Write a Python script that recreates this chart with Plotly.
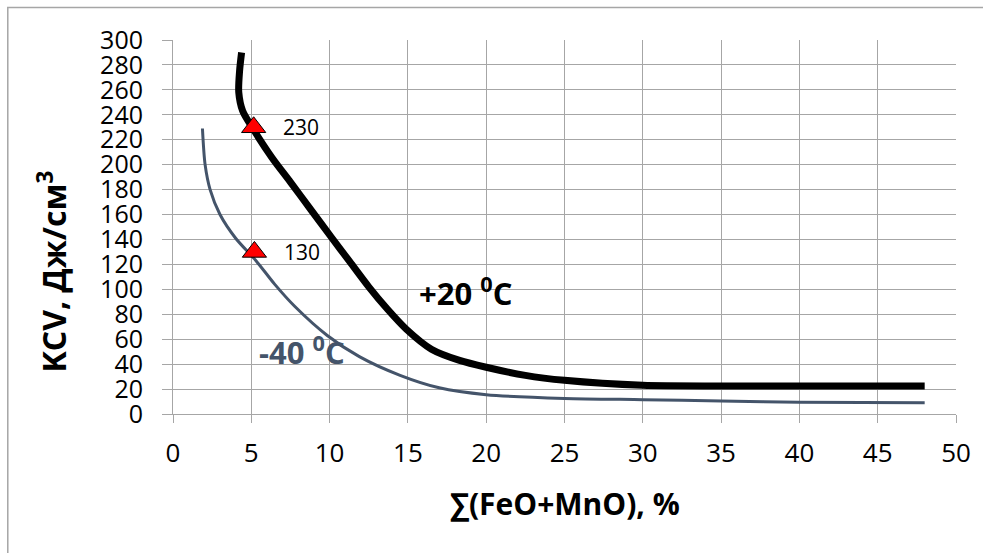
import plotly.graph_objects as go

# +20 °C curve
x_p20 = [4.38, 4.25, 4.2, 4.45, 5.1, 6.3, 7.5, 8.8, 10.1, 11.3, 12.5, 13.7, 14.9, 16.5, 18.3, 20.0, 22.5, 25.0, 30.0, 35.0, 40.0, 48.0]
y_p20 = [290, 275, 258, 243, 229, 206, 186, 164, 142, 122, 102, 84, 68, 52, 43, 37.5, 31, 27, 23, 22.5, 22.5, 22.5]

# -40 °C curve
x_m40 = [1.88, 2.05, 2.37, 3.0, 4.0, 5.3, 6.5, 7.8, 9.85, 11.9, 14.5, 17.0, 20.0, 25.0, 30.0, 35.0, 40.0, 48.0]
y_m40 = [229, 200, 180, 160, 141, 123, 104, 86, 63, 46, 31, 21, 15.5, 12.5, 11.5, 10.5, 9.5, 9]

# highlighted points
x_pts = [5.15, 5.2]
y_pts = [230, 130]
pt_labels = ["230", "130"]

FONT = "Open Sans"
GRID = "#a6a6a6"
SLATE = "#44546A"

fig = go.Figure()
fig.add_trace(go.Scatter(x=x_m40, y=y_m40, mode="lines",
                         line=dict(color=SLATE, width=3, shape="spline", smoothing=0.8),
                         showlegend=False, hoverinfo="skip"))
fig.add_trace(go.Scatter(x=x_p20, y=y_p20, mode="lines",
                         line=dict(color="black", width=7, shape="spline", smoothing=0.8),
                         showlegend=False, hoverinfo="skip"))
fig.add_trace(go.Scatter(x=x_pts, y=y_pts, mode="markers",
                         marker=dict(symbol="triangle-up", size=21, color="#ff0000",
                                     line=dict(color="black", width=1)),
                         showlegend=False, hoverinfo="skip"))

for xv, yv, t in zip(x_pts, y_pts, pt_labels):
    fig.add_annotation(x=xv + 1.75, y=yv, text=t, showarrow=False, xanchor="left",
                       yanchor="middle", font=dict(family=FONT, size=21, color="black"))

fig.add_annotation(x=15.6, y=98, text="<b>+20 <sup>0</sup>C</b>", showarrow=False,
                   xanchor="left", yanchor="middle", font=dict(family=FONT, size=31, color="black"))
fig.add_annotation(x=5.35, y=51, text="<b>-40 <sup>0</sup>C</b>", showarrow=False,
                   xanchor="left", yanchor="middle", font=dict(family=FONT, size=31, color=SLATE))

fig.add_annotation(xref="paper", yref="paper", x=0.5, y=-0.238,
                   text="<b>∑(FeO+MnO), %</b>", showarrow=False,
                   xanchor="center", yanchor="middle", font=dict(family=FONT, size=30, color="black"))
fig.add_annotation(xref="paper", yref="paper", x=-0.155, y=0.38,
                   text="<b>KCV, Дж/см<sup>3</sup></b>", showarrow=False, textangle=-90,
                   xanchor="center", yanchor="middle", font=dict(family=FONT, size=32, color="black"))

# outer chart frame
fig.add_shape(type="rect", xref="paper", yref="paper", x0=-0.211, x1=1.2, y0=-0.6, y1=1.087,
              line=dict(color=GRID, width=1.5))

fig.update_xaxes(range=[0, 50], dtick=5, tick0=0, showgrid=True, gridcolor=GRID, gridwidth=1,
                 showline=True, linecolor=GRID, linewidth=1, ticks="outside", ticklen=8,
                 tickcolor=GRID, zeroline=False, ticklabelstandoff=8,
                 tickfont=dict(family=FONT, size=26, color="black"))
fig.update_yaxes(range=[0, 300], dtick=20, tick0=0, showgrid=True, gridcolor=GRID, gridwidth=1,
                 showline=True, linecolor=GRID, linewidth=1, ticks="outside", ticklen=10,
                 tickcolor=GRID, zeroline=False, ticklabelstandoff=14,
                 tickfont=dict(family=FONT, size=25, color="black"))

fig.update_layout(width=983, height=553, margin=dict(l=173, r=25, t=40, b=139),
                  plot_bgcolor="white", paper_bgcolor="white", showlegend=False)

fig.write_html("out.html")
